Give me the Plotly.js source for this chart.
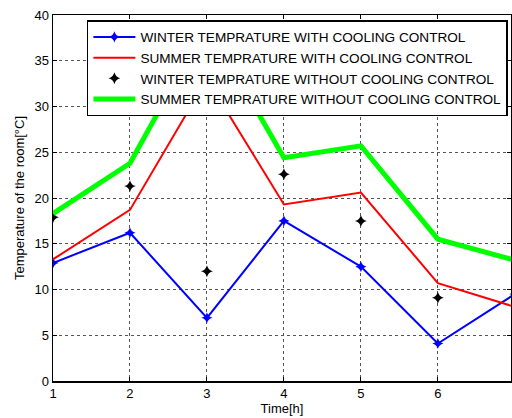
<!DOCTYPE html>
<html>
<head>
<meta charset="utf-8">
<script src="https://cdn.plot.ly/plotly-3.0.1.min.js"></script>
<style>html,body{margin:0;padding:0;background:#fff;}#chart{width:512px;height:418px;}</style>
</head>
<body>
<div id="chart"></div>
<script>
const hours = [1, 2, 3, 4, 5, 6, 7];
const hoursObserved = [1, 2, 3, 4, 5, 6];
const winterWithControl = [12.9, 16.2, 6.9, 17.5, 12.5, 4.1, 9.5];
const summerWithControl = [13.3, 18.7, 33.0, 19.3, 20.6, 10.7, 8.1];
const winterWithoutControl = [17.9, 21.3, 12.0, 22.6, 17.5, 9.1];
const summerWithoutControl = [18.3, 23.8, 39.0, 24.4, 25.7, 15.5, 13.2];
const seriesNames = [
  'WINTER TEMPRATURE WITH COOLING CONTROL',
  'SUMMER TEMPRATURE WITH COOLING CONTROL',
  'WINTER TEMPRATURE WITHOUT COOLING CONTROL',
  'SUMMER TEMPRATURE WITHOUT COOLING CONTROL'
];
const xTicks = [1, 2, 3, 4, 5, 6];
const yTicks = [0, 5, 10, 15, 20, 25, 30, 35, 40];

const font = 'Liberation Sans, Arial, Helvetica, sans-serif';

const traces = [
  {x: hours, y: winterWithControl, name: seriesNames[0], type: 'scatter', mode: 'lines+markers',
   line: {color: '#0000ff', width: 2}, marker: {symbol: 'star-diamond', size: 8, color: '#0000ff', line: {width: 0}}},
  {x: hours, y: summerWithControl, name: seriesNames[1], type: 'scatter', mode: 'lines',
   line: {color: '#ff0000', width: 2}},
  {x: hoursObserved, y: winterWithoutControl, name: seriesNames[2], type: 'scatter', mode: 'markers',
   marker: {symbol: 'star-diamond', size: 8.5, color: '#000000', line: {width: 0}}},
  {x: hours, y: summerWithoutControl, name: seriesNames[3], type: 'scatter', mode: 'lines',
   line: {color: '#00ff00', width: 5}}
];

const layout = {
  width: 512, height: 418,
  margin: {l: 53, r: 1, t: 15, b: 37},
  paper_bgcolor: '#ffffff', plot_bgcolor: '#ffffff',
  font: {family: font, size: 13, color: '#000000'},
  showlegend: true,
  legend: {x: 0.074, y: 0.986, xanchor: 'left', yanchor: 'top',
    bgcolor: '#ffffff', bordercolor: '#000000', borderwidth: 1.5,
    itemwidth: 42,
    font: {family: font, size: 13.6, color: '#000000'}, tracegroupgap: 0},
  xaxis: {range: [1, 6.95], tickvals: xTicks, ticktext: xTicks.map(String),
    showgrid: true, gridcolor: '#555555', griddash: 'dot', gridwidth: 1,
    zeroline: false, showline: true, linecolor: '#000000', linewidth: 1.5, mirror: 'ticks',
    ticks: 'inside', ticklen: 4, tickcolor: '#000000',
    title: {text: 'Time[h]', font: {family: font, size: 13}, standoff: 3},
    tickfont: {family: font, size: 13}},
  yaxis: {range: [0, 40], tickvals: yTicks, ticktext: yTicks.map(String),
    showgrid: true, gridcolor: '#555555', griddash: 'dot', gridwidth: 1,
    zeroline: false, showline: true, linecolor: '#000000', linewidth: 1.5, mirror: 'ticks',
    ticks: 'inside', ticklen: 4, tickcolor: '#000000',
    title: {text: 'Temperature of the room[°C]', font: {family: font, size: 13}, standoff: 7},
    tickfont: {family: font, size: 13}}
};

Plotly.newPlot('chart', traces, layout, {staticPlot: true, displayModeBar: false});
</script>
</body>
</html>
